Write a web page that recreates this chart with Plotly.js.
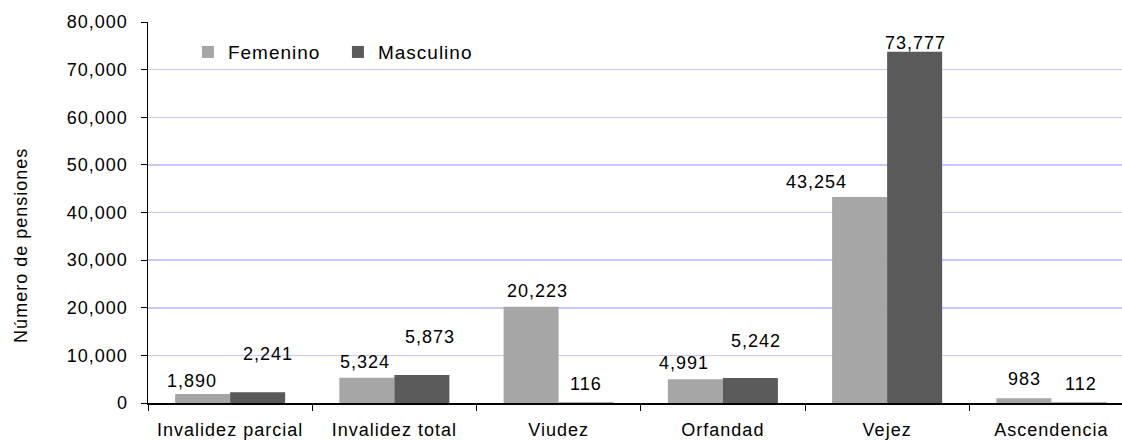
<!DOCTYPE html>
<html>
<head>
<meta charset="utf-8">
<script src="https://cdn.plot.ly/plotly-3.0.1.min.js"></script>
<style>
html,body{margin:0;padding:0;background:#fff;}
#chart{width:1122px;height:441px;}
text{letter-spacing:1px;}
</style>
</head>
<body>
<div id="chart"></div>
<script>
const categories = ["Invalidez parcial", "Invalidez total", "Viudez", "Orfandad", "Vejez", "Ascendencia"];
const femenino = [1890, 5324, 20223, 4991, 43254, 983];
const masculino = [2241, 5873, 116, 5242, 73777, 112];
const seriesNames = ["Femenino", "Masculino"];
const yTicks = [0, 10000, 20000, 30000, 40000, 50000, 60000, 70000, 80000];
const yTitle = "Número de pensiones";

// label nudges in pixels (styling only): [dx, dy up]
const femNudgeX = [-11, -2, 6, -11, -43, 1];
const femNudgeY = [13, 16, 16, 16, 15, 19];
const masNudgeX = [10, 8, 0, 6, 1, 2];
const masNudgeY = [38, 38, 18, 37, 9, 18];

const FONT = "Liberation Sans, Arial, sans-serif";
const fmt = v => v.toLocaleString("en-US");
const halfBar = 27.5;

const traces = [
  {type: "bar", name: seriesNames[0], x: categories, y: femenino,
   marker: {color: "#a6a6a6", line: {width: 0}}, hoverinfo: "y"},
  {type: "bar", name: seriesNames[1], x: categories, y: masculino,
   marker: {color: "#5a5a5a", line: {width: 0}}, hoverinfo: "y"}
];

const annotations = [];
categories.forEach((c, i) => {
  annotations.push({x: c, y: femenino[i], xref: "x", yref: "y", text: fmt(femenino[i]),
    showarrow: false, xshift: -halfBar + femNudgeX[i], yshift: femNudgeY[i], yanchor: "middle",
    font: {family: FONT, size: 18, color: "#000"}});
  annotations.push({x: c, y: masculino[i], xref: "x", yref: "y", text: fmt(masculino[i]),
    showarrow: false, xshift: halfBar + masNudgeX[i], yshift: masNudgeY[i], yanchor: "middle",
    font: {family: FONT, size: 18, color: "#000"}});
});
annotations.push({x: -0.1304, y: 0.415, xref: "paper", yref: "paper", text: yTitle,
  textangle: -90, showarrow: false, xanchor: "center", yanchor: "middle",
  font: {family: FONT, size: 18, color: "#000"}});

const layout = {
  width: 1122, height: 441,
  margin: {l: 148, r: 0, t: 22, b: 38, pad: 0},
  paper_bgcolor: "#fff", plot_bgcolor: "#fff",
  font: {family: FONT, size: 18, color: "#000"},
  barmode: "group", bargap: 0.33, bargroupgap: 0,
  showlegend: true,
  legend: {orientation: "h", x: 0.041, y: 0.921, xanchor: "left", yanchor: "middle",
    font: {family: FONT, size: 19, color: "#000"}, bgcolor: "rgba(0,0,0,0)", itemwidth: 30,
    entrywidth: 105, entrywidthmode: "pixels"},
  xaxis: {type: "category", range: [-0.5, 5.43], tickson: "boundaries", ticks: "outside",
    ticklen: 6, tickcolor: "#000", showline: true, linecolor: "#000", linewidth: 1.5,
    showgrid: false, zeroline: false, tickfont: {family: FONT, size: 18},
    ticklabelstandoff: 10, fixedrange: true},
  yaxis: {range: [0, 80000], tickvals: yTicks, ticktext: yTicks.map(fmt), ticks: "outside",
    ticklen: 6, tickcolor: "#000", showline: true, linecolor: "#000", linewidth: 1.5,
    showgrid: true, gridcolor: "#c8c8fc", gridwidth: 1.5, zeroline: false,
    tickfont: {family: FONT, size: 18}, ticklabelstandoff: 9,
    automargin: false, fixedrange: true},
  annotations: annotations
};

Plotly.newPlot("chart", traces, layout, {displayModeBar: false, staticPlot: true});
</script>
</body>
</html>
